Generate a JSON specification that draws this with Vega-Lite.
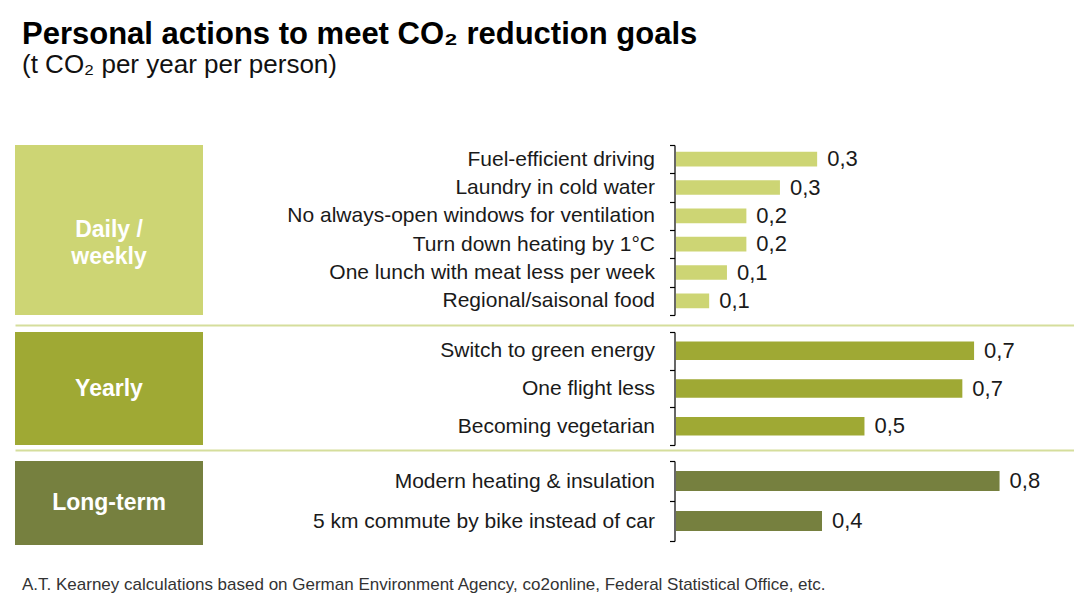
{
  "$schema": "https://vega.github.io/schema/vega-lite/v6.json",
  "padding": {"left": 15, "top": 19, "right": 0, "bottom": 0},
  "background": "white",
  "title": {
    "text": "Personal actions to meet CO₂ reduction goals",
    "subtitle": "(t CO₂ per year per person)",
    "anchor": "start",
    "frame": "group",
    "dx": 7,
    "fontSize": 31,
    "fontWeight": "bold",
    "color": "#000000",
    "subtitleFontSize": 26,
    "subtitleColor": "#111111",
    "subtitlePadding": 1,
    "offset": 55,
    "font": "Liberation Sans",
    "subtitleFont": "Liberation Sans"
  },
  "datasets": {
    "groups": [
      {"group": "daily", "label": "Daily /\nweekly"},
      {"group": "yearly", "label": "Yearly"},
      {"group": "longterm", "label": "Long-term"}
    ],
    "actions": [
      {"group": "daily", "action": "Fuel-efficient driving", "value": 0.349},
      {"group": "daily", "action": "Laundry in cold water", "value": 0.257},
      {"group": "daily", "action": "No always-open windows for ventilation", "value": 0.174},
      {"group": "daily", "action": "Turn down heating by 1°C", "value": 0.174},
      {"group": "daily", "action": "One lunch with meat less per week", "value": 0.126},
      {"group": "daily", "action": "Regional/saisonal food", "value": 0.082},
      {"group": "yearly", "action": "Switch to green energy", "value": 0.737},
      {"group": "yearly", "action": "One flight less", "value": 0.708},
      {"group": "yearly", "action": "Becoming vegetarian", "value": 0.466},
      {"group": "longterm", "action": "Modern heating & insulation", "value": 0.8},
      {"group": "longterm", "action": "5 km commute by bike instead of car", "value": 0.361}
    ]
  },
  "spacing": -6,
  "vconcat": [
    {
      "spacing": 0,
      "hconcat": [
        {
          "width": 188,
          "height": 170,
          "data": {"name": "groups"},
          "transform": [{"filter": "datum.group === 'daily'"}],
          "view": {"fill": "#cdd574", "stroke": null},
          "mark": {"type": "text", "color": "white", "fontSize": 23, "fontWeight": "bold", "lineBreak": "\n", "lineHeight": 27, "align": "center", "baseline": "middle"},
          "encoding": {"text": {"field": "label"}}
        },
        {
          "width": 364,
          "height": 170,
          "data": {"name": "actions"},
          "transform": [{"filter": "datum.group === 'daily'"}],
          "encoding": {
            "y": {"field": "action", "type": "nominal", "sort": null, "scale": {"paddingInner": 0, "paddingOuter": 0}, "axis": {"title": null}},
            "x": {"field": "value", "type": "quantitative", "scale": {"domain": [0, 0.9]}, "axis": null}
          },
          "layer": [
            {"mark": {"type": "bar", "height": {"band": 0.52}, "color": "#cdd574"}},
            {"mark": {"type": "text", "align": "left", "baseline": "middle", "dx": 10, "fontSize": 22, "color": "#1a1a1a"}, "encoding": {"text": {"field": "value", "type": "quantitative", "format": ".1f"}}}
          ]
        }
      ]
    },
    {
      "width": 1059,
      "height": 11,
      "data": {"values": [{"v": 0}]},
      "mark": {"type": "point", "opacity": 0},
      "encoding": {"x": {"field": "v", "type": "quantitative", "axis": {"orient": "bottom", "offset": -2, "domainColor": "#d5de9c", "domainWidth": 2, "ticks": false, "labels": false, "title": null, "grid": false, "minExtent": 0, "maxExtent": 0}}}
    },
    {
      "spacing": 0,
      "hconcat": [
        {
          "width": 188,
          "height": 113,
          "data": {"name": "groups"},
          "transform": [{"filter": "datum.group === 'yearly'"}],
          "view": {"fill": "#9fa934", "stroke": null},
          "mark": {"type": "text", "color": "white", "fontSize": 23, "fontWeight": "bold", "align": "center", "baseline": "middle"},
          "encoding": {"text": {"field": "label"}}
        },
        {
          "width": 364,
          "height": 113,
          "data": {"name": "actions"},
          "transform": [{"filter": "datum.group === 'yearly'"}],
          "encoding": {
            "y": {"field": "action", "type": "nominal", "sort": null, "scale": {"paddingInner": 0, "paddingOuter": 0}, "axis": {"title": null}},
            "x": {"field": "value", "type": "quantitative", "scale": {"domain": [0, 0.9]}, "axis": null}
          },
          "layer": [
            {"mark": {"type": "bar", "height": {"band": 0.49}, "color": "#9fa934"}},
            {"mark": {"type": "text", "align": "left", "baseline": "middle", "dx": 10, "fontSize": 22, "color": "#1a1a1a"}, "encoding": {"text": {"field": "value", "type": "quantitative", "format": ".1f"}}}
          ]
        }
      ]
    },
    {
      "width": 1059,
      "height": 10,
      "data": {"values": [{"v": 0}]},
      "mark": {"type": "point", "opacity": 0},
      "encoding": {"x": {"field": "v", "type": "quantitative", "axis": {"orient": "bottom", "offset": -6, "domainColor": "#d5de9c", "domainWidth": 2, "ticks": false, "labels": false, "title": null, "grid": false, "minExtent": 0, "maxExtent": 0}}}
    },
    {
      "spacing": 0,
      "hconcat": [
        {
          "width": 188,
          "height": 84,
          "data": {"name": "groups"},
          "transform": [{"filter": "datum.group === 'longterm'"}],
          "view": {"fill": "#76803f", "stroke": null},
          "mark": {"type": "text", "color": "white", "fontSize": 23, "fontWeight": "bold", "align": "center", "baseline": "middle"},
          "encoding": {"text": {"field": "label"}}
        },
        {
          "width": 364,
          "height": 80,
          "data": {"name": "actions"},
          "transform": [{"filter": "datum.group === 'longterm'"}],
          "encoding": {
            "y": {"field": "action", "type": "nominal", "sort": null, "scale": {"paddingInner": 0, "paddingOuter": 0}, "axis": {"title": null}},
            "x": {"field": "value", "type": "quantitative", "scale": {"domain": [0, 0.9]}, "axis": null}
          },
          "layer": [
            {"mark": {"type": "bar", "height": {"band": 0.5}, "color": "#76803f"}},
            {"mark": {"type": "text", "align": "left", "baseline": "middle", "dx": 10, "fontSize": 22, "color": "#1a1a1a"}, "encoding": {"text": {"field": "value", "type": "quantitative", "format": ".1f"}}}
          ]
        }
      ]
    },
    {
      "width": 1059,
      "height": 30,
      "data": {"values": [{}]},
      "mark": {"type": "point", "opacity": 0},
      "encoding": {},
      "title": {
        "text": "A.T. Kearney calculations based on German Environment Agency, co2online, Federal Statistical Office, etc.",
        "orient": "bottom",
        "anchor": "start",
        "frame": "group",
        "dx": 7,
        "offset": 2,
        "fontSize": 17,
        "fontWeight": "normal",
        "color": "#333333",
        "font": "Liberation Sans"
      }
    }
  ],
  "config": {
    "font": "Liberation Sans",
    "view": {"stroke": null},
    "locale": {"number": {"decimal": ",", "thousands": ".", "grouping": [3], "currency": ["", " €"]}},
    "text": {"font": "Liberation Sans"},
    "axisY": {
      "domain": true,
      "domainColor": "#000000",
      "domainWidth": 1.2,
      "ticks": true,
      "tickBand": "extent",
      "tickSize": 5,
      "tickColor": "#000000",
      "tickWidth": 1.2,
      "grid": false,
      "labelFont": "Liberation Sans",
      "labelFontSize": 21,
      "labelColor": "#1a1a1a",
      "labelPadding": 15,
      "labelLimit": 460,
      "offset": 1.5,
      "minExtent": 471,
      "maxExtent": 471
    }
  }
}
